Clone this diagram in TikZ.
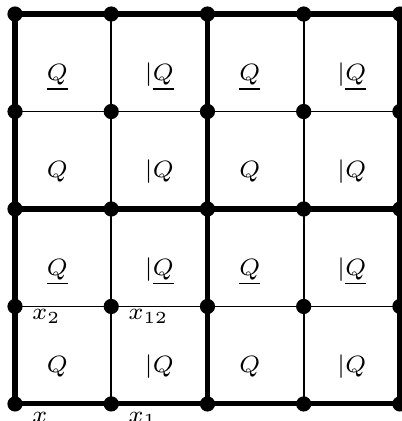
\documentclass[tikz,border=0pt]{standalone}
\usepackage{amsmath,amssymb}
\usepackage{tikz}

\begin{document}
\begin{tikzpicture}[x=1cm,y=1.013cm,
  dot/.style={circle,fill=black,inner sep=0pt,minimum size=4.5pt},
  thinline/.style={line width=0.5pt},
  thickline/.style={line width=1.5pt},
  cell/.style={anchor=base,inner sep=0pt,font=\scriptsize},
  corner/.style={anchor=north west,inner sep=0pt,font=\scriptsize}]
\useasboundingbox (-0.156,-0.175) rectangle (4.021,4.144);
\foreach \i in {0,...,4}
  \foreach \j in {0,...,4}
    \coordinate (p\i\j) at (\i,\j);
\foreach \k in {1,3}{
  \draw[thinline] (p\k0) -- (p\k4);
  \draw[thinline] (p0\k) -- (p4\k);
}
\foreach \k in {0,2,4}{
  \draw[thickline] (p\k0) -- (p\k4);
  \draw[thickline] (p0\k) -- (p4\k);
}
\foreach \i in {0,...,4}
  \foreach \j in {0,...,4}
    \node[dot] (d\i\j) at (p\i\j) {};
% cell labels
\foreach \j/\q in {0/Q, 1/\underline{Q}, 2/Q, 3/\underline{Q}}{
  \foreach \i in {0,2}
    \node[cell] (q\i\j) at (\i+0.44,\j+0.32) {$\q$};
  \foreach \i in {1,3}
    \node[cell] (q\i\j) at (\i+0.5,\j+0.32) {$|\q$};
}
% corner labels
\foreach \i/\j/\dy/\name/\lab in {0/0/-0.075/x/x, 1/0/-0.075/xa/x_1,
    0/1/-0.026/xb/x_2, 1/1/-0.026/xab/x_{12}}
  \node[corner] (\name) at ([shift={(0.17,\dy)}]p\i\j) {$\lab$};
\end{tikzpicture}
\end{document}
